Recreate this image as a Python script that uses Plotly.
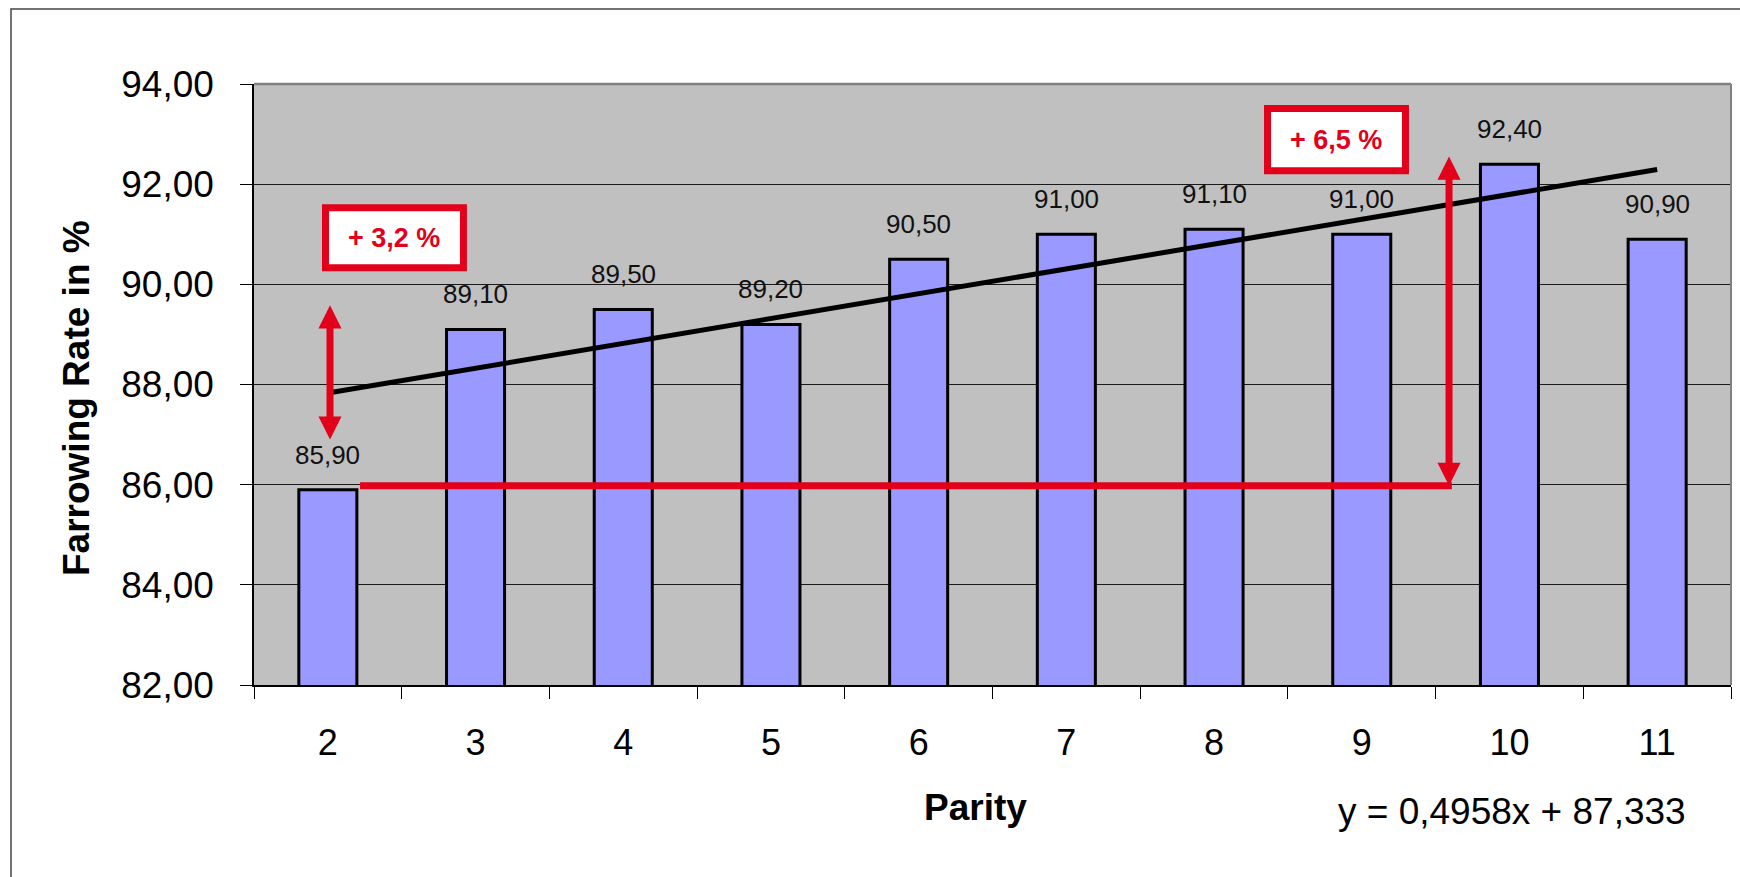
import plotly.graph_objects as go

# ---- data -------------------------------------------------------------
parity = ["2", "3", "4", "5", "6", "7", "8", "9", "10", "11"]
farrowing_rate = [85.9, 89.1, 89.5, 89.2, 90.5, 91.0, 91.1, 91.0, 92.4, 90.9]
trend_slope = 0.4958
trend_intercept = 87.333
y_ticks = [82, 84, 86, 88, 90, 92, 94]

# ---- styling ----------------------------------------------------------
FONT = "Liberation Sans, Arial, sans-serif"
RED = "#E2001A"
BAR_FILL = "#9999FF"
PLOT_BG = "#C0C0C0"

W, H = 1740, 877
L, R, T, B = 254, 9, 84, 192
PW, PH = W - L - R, H - T - B


def px_x(px):
    """Pixel column -> paper x."""
    return (px - L) / PW


def px_y(py):
    """Pixel row -> paper y."""
    return (H - B - py) / PH


# trend line from the fitted equation (x = 1..n in spreadsheet terms)
trend = [trend_slope * (i + 1) + trend_intercept for i in range(len(parity))]
value_text = [f"{v:.2f}".replace(".", ",") for v in farrowing_rate]

fig = go.Figure()

fig.add_trace(go.Bar(
    x=parity, y=farrowing_rate,
    marker=dict(color=BAR_FILL, line=dict(color="black", width=3)),
    hoverinfo="x+y",
))

fig.add_trace(go.Scatter(
    x=parity, y=trend, mode="lines",
    line=dict(color="black", width=5),
    hoverinfo="skip",
))

# value labels above the bars
for i, (v, t) in enumerate(zip(farrowing_rate, value_text)):
    fig.add_annotation(
        x=i, y=v, xref="x", yref="y", text=t, showarrow=False,
        xanchor="center", yanchor="bottom", yshift=18,
        font=dict(family=FONT, size=26, color="#111111"),
    )

shapes = []

# outer frame of the chart
shapes.append(dict(type="rect", xref="paper", yref="paper",
                   x0=px_x(11), x1=px_x(W + 10), y0=px_y(H + 10), y1=px_y(9),
                   line=dict(color="#444444", width=1.5), fillcolor="rgba(0,0,0,0)"))

# grey top / right border of the plot area
shapes.append(dict(type="line", xref="paper", yref="paper", x0=0, x1=1, y0=1, y1=1,
                   line=dict(color="#808080", width=2.5)))
shapes.append(dict(type="line", xref="paper", yref="paper", x0=1, x1=1, y0=0, y1=1,
                   line=dict(color="#808080", width=2)))

# red reference line at the parity-2 level
base_level = 85.98
shapes.append(dict(type="line", xref="x", yref="y", x0=0.218, x1=7.61,
                   y0=base_level, y1=base_level, line=dict(color=RED, width=7)))

HEAD_HALF_W = 0.078   # category units
HEAD_LEN = 0.46       # y units


def double_arrow(x, y_low, y_high):
    out = [dict(type="line", xref="x", yref="y", x0=x, x1=x,
                y0=y_low + HEAD_LEN * 0.8, y1=y_high - HEAD_LEN * 0.8,
                line=dict(color=RED, width=7))]
    up = (f"M {x - HEAD_HALF_W},{y_high - HEAD_LEN} L {x + HEAD_HALF_W},{y_high - HEAD_LEN} "
          f"L {x},{y_high} Z")
    down = (f"M {x - HEAD_HALF_W},{y_low + HEAD_LEN} L {x + HEAD_HALF_W},{y_low + HEAD_LEN} "
            f"L {x},{y_low} Z")
    for p in (up, down):
        out.append(dict(type="path", xref="x", yref="y", path=p,
                        fillcolor=RED, line=dict(color=RED, width=0)))
    return out


shapes += double_arrow(0.0146, 86.9, 89.58)
shapes += double_arrow(7.591, base_level, 92.55)

# red framed call-out boxes
boxes = [
    dict(x0=-0.016, x1=0.918, y0=90.33, y1=91.53, text="+ 3,2 %"),
    dict(x0=6.362, x1=7.296, y0=92.27, y1=93.51, text="+ 6,5 %"),
]
for b in boxes:
    shapes.append(dict(type="rect", xref="x", yref="y",
                       x0=b["x0"], x1=b["x1"], y0=b["y0"], y1=b["y1"],
                       fillcolor="white", line=dict(color=RED, width=7)))
    fig.add_annotation(x=(b["x0"] + b["x1"]) / 2, y=(b["y0"] + b["y1"]) / 2,
                       xref="x", yref="y", text=b["text"], showarrow=False,
                       xanchor="center", yanchor="middle",
                       font=dict(family=FONT, size=27, color=RED, weight="bold"))

fig.update_layout(shapes=shapes)

# axis titles and regression equation
fig.add_annotation(x=px_x(975), y=px_y(807), xref="paper", yref="paper",
                   text="Parity", showarrow=False,
                   xanchor="center", yanchor="middle",
                   font=dict(family=FONT, size=37, color="black", weight="bold"))
fig.add_annotation(x=px_x(1512), y=px_y(811), xref="paper", yref="paper",
                   text="y = 0,4958x + 87,333", showarrow=False,
                   xanchor="center", yanchor="middle",
                   font=dict(family=FONT, size=37, color="black"))
fig.add_annotation(x=px_x(76), y=px_y(398), xref="paper", yref="paper",
                   text="Farrowing Rate in %", showarrow=False, textangle=-90,
                   xanchor="center", yanchor="middle",
                   font=dict(family=FONT, size=37, color="black", weight="bold"))

fig.update_layout(
    width=W, height=H,
    margin=dict(l=L, r=R, t=T, b=B, pad=0),
    plot_bgcolor=PLOT_BG, paper_bgcolor="white",
    separators=",.",
    showlegend=False,
    bargap=0.607,
    font=dict(family=FONT, color="black"),
)

fig.update_xaxes(
    type="category", range=[-0.5, 9.5], tickson="boundaries",
    ticks="outside", ticklen=12, tickwidth=1, tickcolor="black",
    showline=True, linecolor="black", linewidth=2,
    showgrid=False, zeroline=False,
    tickfont=dict(family=FONT, size=36, color="black"),
    ticklabelstandoff=25,
)
fig.update_yaxes(
    range=[82, 94], tickvals=y_ticks, tickformat=".2f",
    ticks="outside", ticklen=12, tickwidth=1, tickcolor="black",
    showline=True, linecolor="black", linewidth=1.5,
    showgrid=True, gridcolor="#1a1a1a", gridwidth=1, zeroline=False,
    tickfont=dict(family=FONT, size=37, color="black"),
    ticklabelstandoff=19,
)

fig.write_html("out.html")
